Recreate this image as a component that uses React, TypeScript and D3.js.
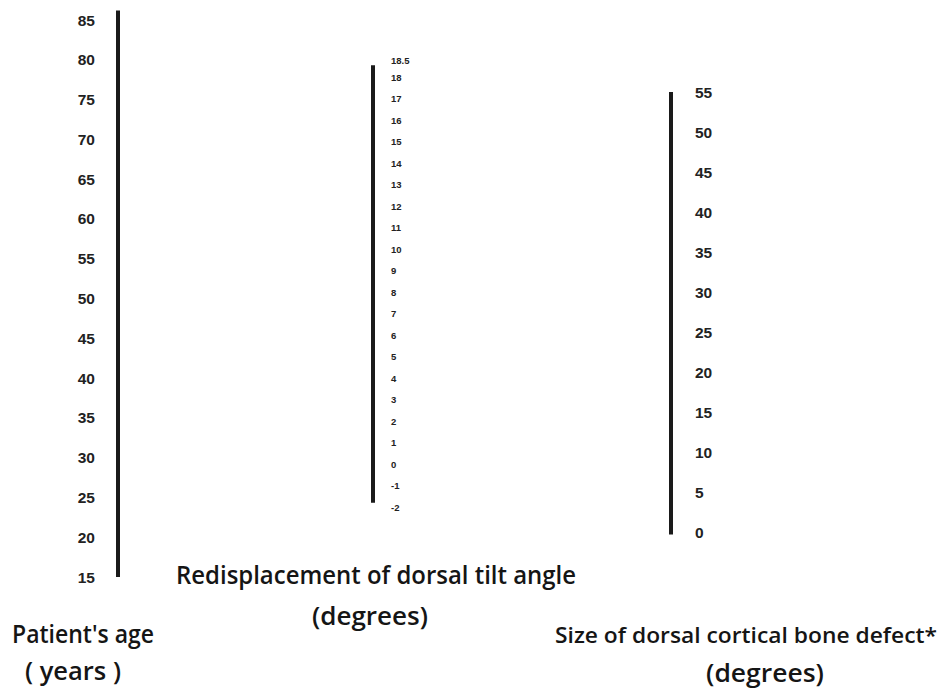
import * as d3 from "d3";

const ageTicks = [85, 80, 75, 70, 65, 60, 55, 50, 45, 40, 35, 30, 25, 20, 15];
const tiltTicks = [18, 17, 16, 15, 14, 13, 12, 11, 10, 9, 8, 7, 6, 5, 4, 3, 2, 1, 0, -1, -2];
const tiltTop = 18.5;
const defectTicks = [55, 50, 45, 40, 35, 30, 25, 20, 15, 10, 5, 0];

const W = 948;
const H = 692;

export default function App() {
  const yAge = d3.scaleLinear([15, 85], [577, 20]);
  const yTilt = d3.scaleLinear([-2, 18], [507, 77]);
  const yDef = d3.scaleLinear([0, 55], [532, 92]);

  const xAge = 118;
  const xTilt = 373;
  const xDef = 671;

  const titleFont = "'Open Sans', Lato, sans-serif";
  const numFont = "'Liberation Sans', Arial, sans-serif";

  return (
    <svg
      width={W}
      height={H}
      style={{ position: "absolute", left: 0, top: 0, background: "#fff" }}
    >
      {/* patient age */}
      <line x1={xAge} x2={xAge} y1={yAge(86.2)} y2={yAge(15)} stroke="#1a1a1a" strokeWidth={4} />
      <g fontFamily={numFont} fontWeight="bold" fontSize={15.5} fill="#222">
        {ageTicks.map((t) => (
          <text key={t} x={95} y={yAge(t)} textAnchor="end" dominantBaseline="central">
            {t}
          </text>
        ))}
      </g>

      {/* dorsal tilt */}
      <line x1={xTilt} x2={xTilt} y1={yTilt(tiltTop) - 1} y2={yTilt(-1.8)} stroke="#1a1a1a" strokeWidth={4} />
      <g fontFamily={numFont} fontWeight="bold" fontSize={9.5} fill="#222">
        <text x={391} y={yTilt(tiltTop) - 6} dominantBaseline="central">
          {tiltTop}
        </text>
        {tiltTicks.map((t) => (
          <text key={t} x={391} y={yTilt(t)} dominantBaseline="central">
            {t}
          </text>
        ))}
      </g>

      {/* cortical defect */}
      <line x1={xDef} x2={xDef} y1={yDef(55)} y2={yDef(-0.3)} stroke="#1a1a1a" strokeWidth={4} />
      <g fontFamily={numFont} fontWeight="bold" fontSize={15.5} fill="#222">
        {defectTicks.map((t) => (
          <text key={t} x={695} y={yDef(t)} dominantBaseline="central">
            {t}
          </text>
        ))}
      </g>

      <g fontFamily={titleFont} fontSize={25} fontWeight={600} fill="#151515">
        <text x={376} y={584} textAnchor="middle" textLength={400} lengthAdjust="spacingAndGlyphs">
          Redisplacement of dorsal tilt angle
        </text>
        <text x={370} y={625} textAnchor="middle" textLength={116} lengthAdjust="spacingAndGlyphs">
          (degrees)
        </text>
        <text x={83} y={643} textAnchor="middle" textLength={142} lengthAdjust="spacingAndGlyphs">
          Patient's age
        </text>
        <text x={73} y={680} textAnchor="middle" textLength={96} lengthAdjust="spacingAndGlyphs">
          ( years )
        </text>
        <text x={746} y={643} textAnchor="middle" fontSize={22} textLength={382} lengthAdjust="spacingAndGlyphs">
          Size of dorsal cortical bone defect*
        </text>
        <text x={765} y={682} textAnchor="middle" textLength={118} lengthAdjust="spacingAndGlyphs">
          (degrees)
        </text>
      </g>
    </svg>
  );
}
